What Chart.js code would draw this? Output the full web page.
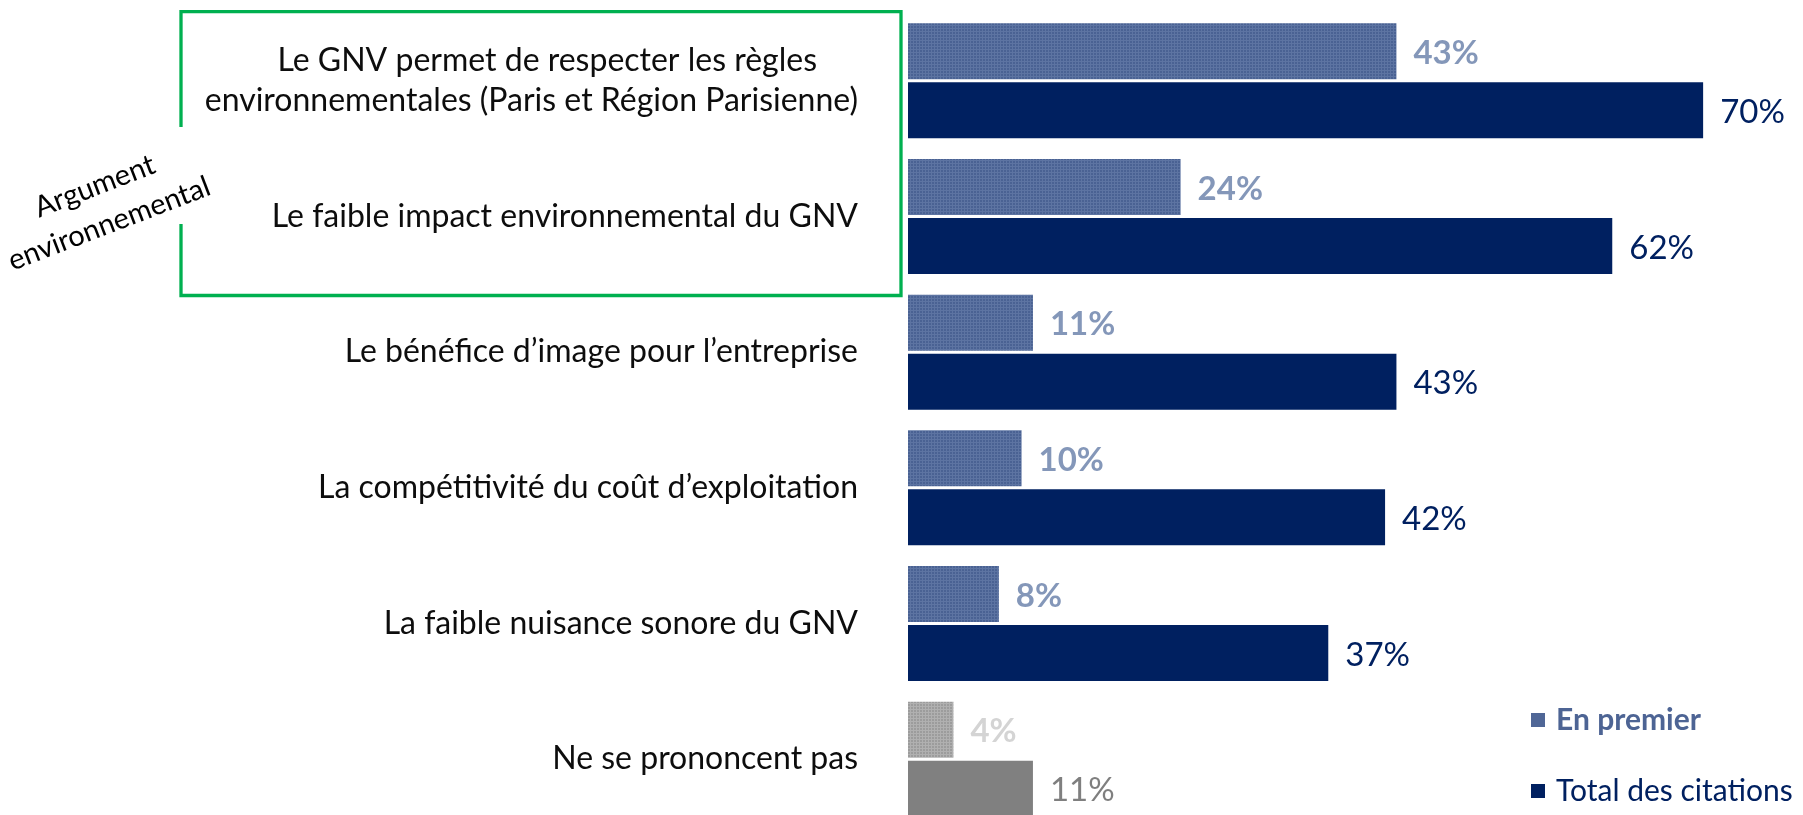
<!DOCTYPE html>
<html>
<head>
<meta charset="utf-8">
<script src="https://cdn.jsdelivr.net/npm/chart.js@4/dist/chart.umd.min.js"></script>
<style>
  html, body { margin: 0; padding: 0; background: #fff; overflow: hidden; }
  #wrap { position: absolute; left: 0; top: 0; width: 1803px; height: 828px; }
</style>
</head>
<body>
<div id="wrap"><canvas id="c"></canvas></div>
<script>
// ---- data ----
const categories = [
  ["Le GNV permet de respecter les règles\u00A0\u00A0\u00A0\u00A0\u00A0", "environnementales (Paris et Région Parisienne)"],
  "Le faible impact environnemental du GNV",
  "Le bénéfice d\u2019image pour l\u2019entreprise",
  "La compétitivité du coût d\u2019exploitation",
  "La faible nuisance sonore du GNV",
  "Ne se prononcent pas"
];
const seriesNames = ["En premier", "Total des citations"];
const enPremier = [43, 24, 11, 10, 8, 4];
const totalCitations = [70, 62, 43, 42, 37, 11];
const groupLabel = ["Argument", "environnemental"];

// ---- styles ----
const FONT = "Lato, 'Open Sans', sans-serif";
function makePattern(base, light) {
  const p = document.createElement('canvas');
  p.width = 3; p.height = 3;
  const g = p.getContext('2d');
  g.fillStyle = base; g.fillRect(0, 0, 3, 3);
  g.fillStyle = light; g.fillRect(0, 1, 3, 1);
  g.fillRect(1, 0, 1, 3);
  return g.createPattern(p, 'repeat');
}
const blueDots = makePattern('#4a6293', '#5d74a2');
const greyDots = makePattern('#9c9c9c', '#b0b0b0');
const NAVY = '#002060';
const lastIdx = categories.length - 1;

const valueLabels = {
  id: 'valueLabels',
  afterDatasetsDraw(chart) {
    const ctx = chart.ctx;
    chart.data.datasets.forEach((ds, di) => {
      const meta = chart.getDatasetMeta(di);
      meta.data.forEach((el, i) => {
        const isLast = i === lastIdx;
        ctx.save();
        if (di === 0) {
          ctx.font = "bold 33px " + FONT;
          ctx.fillStyle = isLast ? '#d4d4d4' : '#8497b9';
        } else {
          ctx.font = "33px " + FONT;
          ctx.fillStyle = isLast ? '#7f7f7f' : NAVY;
        }
        ctx.textAlign = 'left';
        ctx.textBaseline = 'middle';
        ctx.fillText(ds.data[i] + '%', el.x + 17, el.y + 2);
        ctx.restore();
      });
    });
  }
};

const decorations = {
  id: 'decorations',
  afterDraw(chart) {
    const ctx = chart.ctx;
    // green frame around the environmental arguments
    ctx.save();
    ctx.strokeStyle = '#00b050';
    ctx.lineWidth = 3.3;
    ctx.beginPath();
    ctx.moveTo(181, 127);
    ctx.lineTo(181, 11.7);
    ctx.lineTo(901, 11.7);
    ctx.lineTo(901, 295.5);
    ctx.lineTo(181, 295.5);
    ctx.lineTo(181, 224);
    ctx.stroke();
    ctx.restore();
    // rotated group label
    ctx.save();
    ctx.translate(102, 205);
    ctx.rotate(-21 * Math.PI / 180);
    ctx.fillStyle = '#000';
    ctx.font = "29px " + FONT;
    ctx.textAlign = 'center';
    ctx.textBaseline = 'middle';
    ctx.fillText(groupLabel[0], 0, -20);
    ctx.fillText(groupLabel[1], 0, 20);
    ctx.restore();
    // legend
    const items = [
      {y: 720, font: "bold 30px " + FONT, color: '#4d6494', box: '#4f6696'},
      {y: 791, font: "30px " + FONT, color: NAVY, box: NAVY}
    ];
    items.forEach((it, k) => {
      ctx.save();
      ctx.fillStyle = it.box;
      ctx.fillRect(1531, it.y - 7, 14, 14);
      ctx.font = it.font;
      ctx.fillStyle = it.color;
      ctx.textAlign = 'left';
      ctx.textBaseline = 'middle';
      ctx.fillText(chart.data.datasets[k].label, 1556, it.y);
      ctx.restore();
    });
  }
};

new Chart(document.getElementById('c'), {
  type: 'bar',
  data: {
    labels: categories,
    datasets: [
      {
        label: seriesNames[0],
        data: enPremier,
        backgroundColor: ctx => ctx.dataIndex === lastIdx ? greyDots : blueDots,
        borderWidth: 0,
        categoryPercentage: 0.87,
        barPercentage: 0.95
      },
      {
        label: seriesNames[1],
        data: totalCitations,
        backgroundColor: ctx => ctx.dataIndex === lastIdx ? '#808080' : NAVY,
        borderWidth: 0,
        categoryPercentage: 0.87,
        barPercentage: 0.95
      }
    ]
  },
  options: {
    indexAxis: 'y',
    responsive: true,
    maintainAspectRatio: false,
    animation: false,
    layout: { padding: { top: 13, right: 9, bottom: 1, left: 0 } },
    plugins: { legend: { display: false }, tooltip: { enabled: false } },
    scales: {
      x: { display: false, min: 0, max: 78 },
      y: {
        grid: { display: false, drawTicks: false },
        border: { display: false },
        ticks: {
          font: { family: FONT, size: 32, lineHeight: 1.27 },
          color: '#0d0d0d',
          padding: 50,
          crossAlign: 'near',
          autoSkip: false
        },
        afterFit(scale) {
          scale.width = 908;
          scale.paddingTop = 0;
          scale.paddingBottom = 0;
        }
      }
    }
  },
  plugins: [valueLabels, decorations]
});
</script>
</body>
</html>
